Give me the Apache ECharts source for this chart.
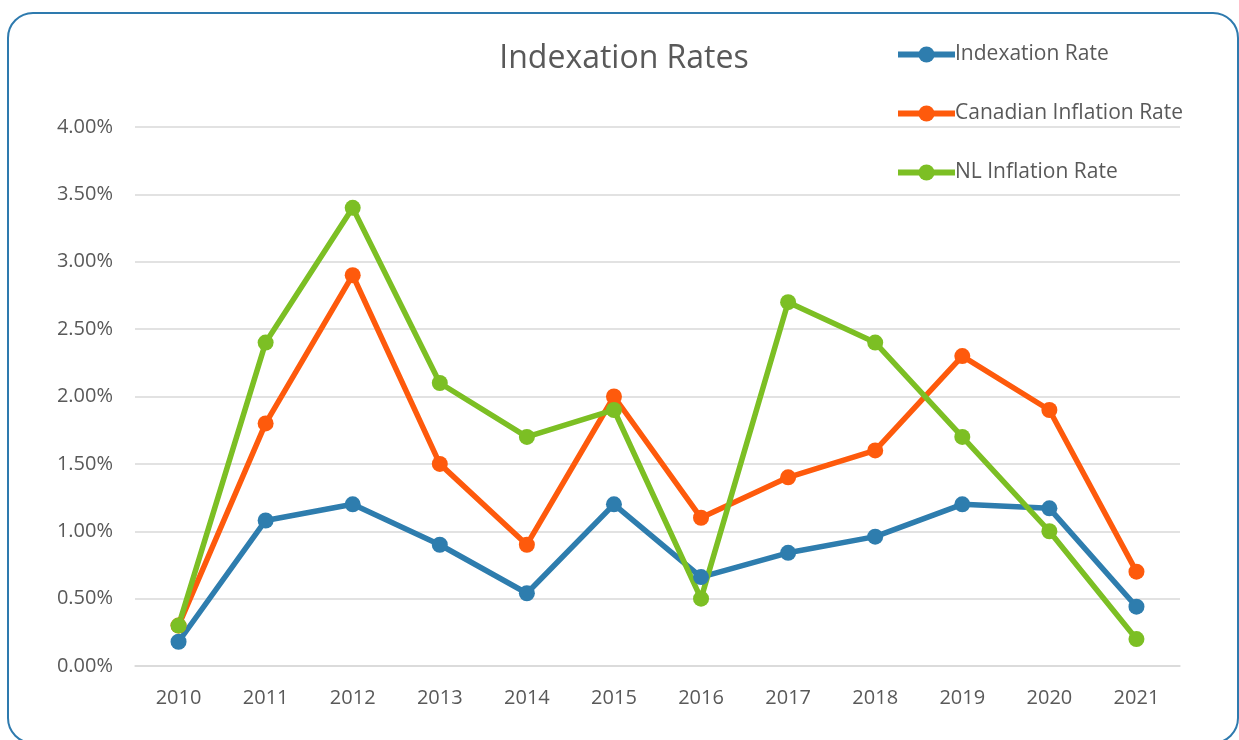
<!DOCTYPE html>
<html>
<head>
<meta charset="UTF-8">
<title>Indexation Rates</title>
<script src="https://cdn.jsdelivr.net/npm/echarts@6/dist/echarts.min.js"></script>
<style>
  html, body { margin: 0; padding: 0; background: #fff; overflow: hidden; }
  #frame {
    position: absolute; left: 7px; top: 12px; width: 1232px; height: 732px;
    border: 2px solid #2e7aae; border-radius: 26px; box-sizing: border-box;
  }
  #main { position: absolute; left: 0; top: 0; width: 1239px; height: 740px; }
</style>
</head>
<body>
<div id="frame"></div>
<div id="main"></div>
<script type="text/javascript">
    var years = ['2010', '2011', '2012', '2013', '2014', '2015', '2016', '2017', '2018', '2019', '2020', '2021'];
    // values in percent
    var indexationRate = [0.18, 1.08, 1.20, 0.90, 0.54, 1.20, 0.66, 0.84, 0.96, 1.20, 1.17, 0.44];
    var canadianInflation = [0.30, 1.80, 2.90, 1.50, 0.90, 2.00, 1.10, 1.40, 1.60, 2.30, 1.90, 0.70];
    var nlInflation = [0.30, 2.40, 3.40, 2.10, 1.70, 1.90, 0.50, 2.70, 2.40, 1.70, 1.00, 0.20];

    var font = '"Open Sans", sans-serif';
    var myChart = echarts.init(document.getElementById('main'));

    function lineSeries(name, color, data) {
        return {
            name: name,
            type: 'line',
            data: data,
            symbol: 'circle',
            symbolSize: 16,
            lineStyle: { width: 5.5, color: color },
            itemStyle: { color: color },
            emphasis: { disabled: true }
        };
    }

    option = {
        animation: false,
        textStyle: { fontFamily: font },
        title: {
            text: 'Indexation Rates',
            left: 619,
            textAlign: 'center',
            top: 38,
            textStyle: { fontSize: 32, fontWeight: 'normal', color: '#595959', fontFamily: font }
        },
        legend: {
            orient: 'vertical',
            left: 895,
            top: 44,
            padding: 0,
            itemGap: 38,
            itemWidth: 57,
            itemHeight: 20,
            lineStyle: { width: 6 },
            textStyle: { fontSize: 21, color: '#595959', fontFamily: font, padding: [0, 0, 0, -5] },
            data: ['Indexation Rate', 'Canadian Inflation Rate', 'NL Inflation Rate']
        },
        grid: { left: 135, right: 59, top: 127, bottom: 74 },
        xAxis: {
            type: 'category',
            data: years,
            boundaryGap: true,
            axisLine: { lineStyle: { color: '#d9d9d9', width: 1.5 } },
            axisTick: { show: false },
            axisLabel: { fontSize: 20, color: '#595959', margin: 22, fontFamily: font }
        },
        yAxis: {
            type: 'value',
            min: 0,
            max: 4,
            interval: 0.5,
            axisLine: { show: false },
            axisTick: { show: false },
            splitLine: { lineStyle: { color: '#d9d9d9', width: 1.5 } },
            axisLabel: {
                fontSize: 20, color: '#595959', margin: 22, fontFamily: font,
                formatter: function (v) { return v.toFixed(2) + '%'; }
            }
        },
        series: [
            lineSeries('Indexation Rate', '#2e7dae', indexationRate),
            lineSeries('Canadian Inflation Rate', '#fe5a0c', canadianInflation),
            lineSeries('NL Inflation Rate', '#7cbf24', nlInflation)
        ]
    };
    myChart.setOption(option);
</script>
</body>
</html>
